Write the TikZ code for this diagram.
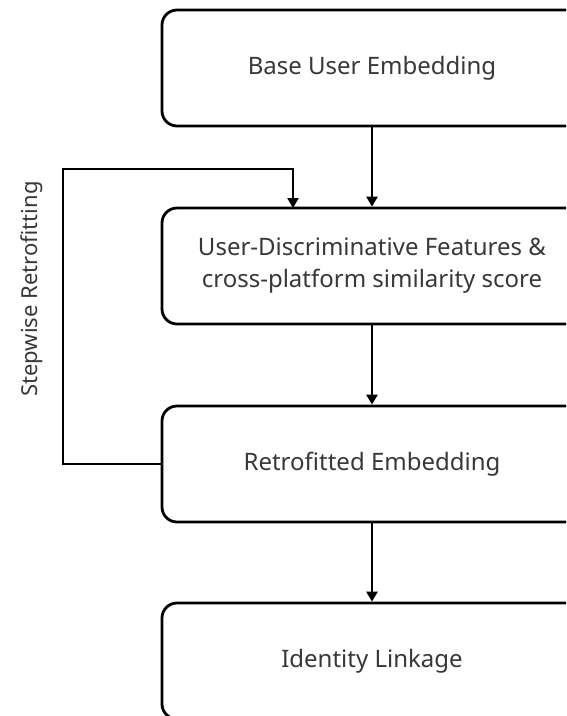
\documentclass[tikz,border=0pt]{standalone}
\usepackage{fontspec}
\setmainfont{Noto Sans}
\usetikzlibrary{arrows.meta}
\definecolor{txt}{HTML}{383838}
\begin{document}
\begin{tikzpicture}[x=1pt,y=-1pt,
  box/.style={draw=black, line width=2.8pt, rounded corners=15pt, fill=white,
    minimum width=420pt, minimum height=116pt, align=center, inner sep=0pt,
    text=txt, font=\fontsize{24}{32}\selectfont},
  conn/.style={line width=2.8pt, -{Triangle[length=10pt,width=11pt]}}]
\useasboundingbox (0,0) rectangle (566,716);
\begin{scope}
\clip (0,0) rectangle (566,716);
\fill[white] (0,0) rectangle (566,716);
\node[box] (b1) at (372,68) {Base User Embedding};
\node[box] (b2) at (372,266) {User-Discriminative Features \&\\cross-platform similarity score};
\node[box] (b3) at (372,464) {Retrofitted Embedding};
\node[box] (b4) at (372,661) {Identity Linkage};
\draw[conn] (b1.south) -- (b2.north);
\draw[conn] (b2.south) -- (b3.north);
\draw[conn] (b3.south) -- (b4.north);
\coordinate (c1) at (63,169);
\coordinate (c2) at (293,169);
\coordinate (c3) at (293,208);
\draw[conn, rounded corners=0pt] (b3.west) -- (63,464) -- (c1) -- (c2) -- (c3);
\node[rotate=90, text=txt, font=\fontsize{22}{26}\selectfont, inner sep=0pt] (lbl) at (32,289) {Stepwise Retrofitting};
\end{scope}
\end{tikzpicture}
\end{document}
